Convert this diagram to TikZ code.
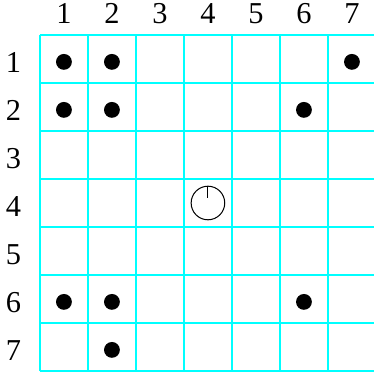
\documentclass[tikz,border=0pt]{standalone}
\usepackage{fontspec}
\setmainfont{Liberation Serif}
\usepackage{tikz}
\definecolor{gridcyan}{RGB}{0, 255, 255}

\begin{document}
\begin{tikzpicture}[font=\fontsize{18}{21}\selectfont,
  gridline/.style={gridcyan, line width=0.7pt},
  stone/.style={fill=black},
  lbl/.style={inner sep=0pt}]
  \useasboundingbox (-0.832,0.729) rectangle (6.944,-7.0625);
  \draw[gridline] (0,0) grid (7,-7);
  % column numbers
  \node[lbl] (c1) at (0.5,0.44) {1};
  \node[lbl] (c2) at (1.5,0.44) {2};
  \node[lbl] (c3) at (2.5,0.44) {3};
  \node[lbl] (c4) at (3.5,0.44) {4};
  \node[lbl] (c5) at (4.5,0.44) {5};
  \node[lbl] (c6) at (5.5,0.44) {6};
  \node[lbl] (c7) at (6.5,0.44) {7};
  % row numbers
  \node[lbl] (r1) at (-0.55,-0.58) {1};
  \node[lbl] (r2) at (-0.55,-1.58) {2};
  \node[lbl] (r3) at (-0.55,-2.58) {3};
  \node[lbl] (r4) at (-0.55,-3.58) {4};
  \node[lbl] (r5) at (-0.55,-4.58) {5};
  \node[lbl] (r6) at (-0.55,-5.58) {6};
  \node[lbl] (r7) at (-0.55,-6.58) {7};
  % stones
  \fill[stone] (0.5,-0.56) circle (0.165);
  \fill[stone] (1.5,-0.56) circle (0.165);
  \fill[stone] (6.5,-0.56) circle (0.165);
  \fill[stone] (0.5,-1.56) circle (0.165);
  \fill[stone] (1.5,-1.56) circle (0.165);
  \fill[stone] (5.5,-1.56) circle (0.165);
  \fill[stone] (0.5,-5.56) circle (0.165);
  \fill[stone] (1.5,-5.56) circle (0.165);
  \fill[stone] (5.5,-5.56) circle (0.165);
  \fill[stone] (1.5,-6.56) circle (0.165);
  % the open circle
  \draw[line width=0.6pt] (3.5,-3.5) circle (0.35);
  \draw[line width=0.6pt] (3.5,-3.15) -- (3.5,-3.4);
\end{tikzpicture}
\end{document}
